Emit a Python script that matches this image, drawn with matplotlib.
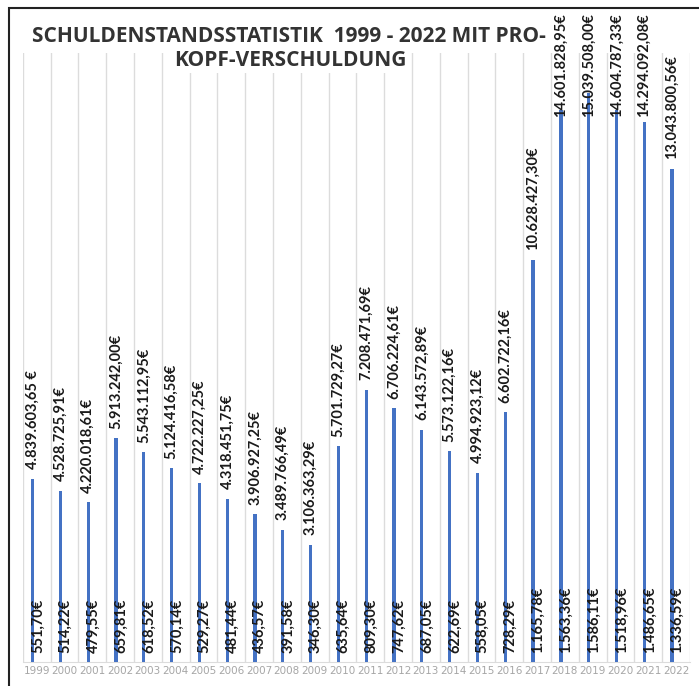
import matplotlib.pyplot as plt
import matplotlib.patches as patches
import numpy as np

# Data
years = [str(y) for y in range(1999, 2023)]
debt = [4839603.65, 4528725.91, 4220018.61, 5913242.00, 5543112.95, 5124416.58,
        4722227.25, 4318451.75, 3906927.25, 3489766.49, 3106363.29, 5701729.27,
        7208471.69, 6706224.61, 6143572.89, 5573122.16, 4994923.12, 6602722.16,
        10628427.30, 14601828.95, 15039508.00, 14604787.33, 14294092.08, 13043800.56]
per_capita = [551.70, 514.22, 479.55, 659.81, 618.52, 570.14, 529.27, 481.44,
              436.57, 391.58, 346.30, 635.64, 809.30, 747.62, 687.05, 622.69,
              558.05, 728.29, 1165.78, 1563.36, 1586.11, 1518.96, 1486.65, 1336.59]


def euro(v):
    s = f"{v:,.2f}".replace(",", "X").replace(".", ",").replace("X", ".")
    return s + "€"


debt_labels = [euro(v) for v in debt]
debt_labels[0] = debt_labels[0].replace("€", " €")
pc_labels = [euro(v) for v in per_capita]

blue = '#4472C4'
W, H = 699, 686
fig = plt.figure(figsize=(W / 100, H / 100), dpi=100)
ax = fig.add_axes([22.7 / W, 1 - 662 / H, (690 - 22.7) / W, (662 - 53) / H])

x = np.arange(len(years))
ax.bar(x - 0.145, debt, width=0.12, color=blue, zorder=3)
ax.bar(x + 0.145, per_capita, width=0.12, color=blue, zorder=3)

ax.set_xlim(-0.5, len(years) - 0.5)
ax.set_ylim(0, 16.11e6)

# vertical category separators
for b in np.arange(-0.5, len(years), 1.0):
    ax.axvline(b, color='#dcdcdc', lw=1, zorder=1)

for s in ['top', 'left', 'right']:
    ax.spines[s].set_visible(False)
ax.spines['bottom'].set_color('#dcdcdc')
ax.set_yticks([])
ax.set_xticks(x)
ax.set_xticklabels(years, fontsize=7.5, color='#a6a6a6', family='DejaVu Sans')
ax.tick_params(axis='x', length=0, pad=3)

lab_font = dict(family='Lato', fontsize=10.5, fontweight='bold', color='#1a1a1a')

anns = []
for i, (v, t) in enumerate(zip(debt, debt_labels)):
    a = ax.annotate(t, (i - 0.145, v), xytext=(0, 7), textcoords='offset points',
                    rotation=90, ha='center', va='bottom', annotation_clip=False,
                    zorder=4, **lab_font)
    anns.append(a)

for i, t in enumerate(pc_labels):
    ax.annotate(t, (i + 0.04, 0), xytext=(0, 6.5), textcoords='offset points',
                rotation=90, ha='center', va='bottom', zorder=4, **lab_font)

# push labels that would leave the chart area back down (like Excel does)
fig.canvas.draw()
r = fig.canvas.get_renderer()
for a in anns:
    bb = a.get_window_extent(r)
    limit = H - 13
    if bb.y1 > limit:
        dy = (bb.y1 - limit) * 72 / 100
        a.xyann = (0, 7 - dy)

# title
fig.text(289 / W, 1 - 37 / H, "SCHULDENSTANDSSTATISTIK  1999 - 2022 MIT PRO-",
         ha='center', va='center', family='Open Sans', fontweight='bold',
         fontsize=15, color='#333333')
fig.text(290 / W, 1 - 61 / H, "KOPF-VERSCHULDUNG", ha='center', va='center',
         family='Open Sans', fontweight='bold', fontsize=15, color='#333333',
         bbox=dict(facecolor='white', edgecolor='none', pad=1), zorder=5)

# chart border (only left and top visible in the crop)
fig.patches.append(patches.Rectangle((8.5 / W, -0.2), 1.2, 1.2 - 7.5 / H,
                                     transform=fig.transFigure, fill=False,
                                     edgecolor='#222222', lw=1.5))

fig.savefig('out.png', dpi=100)
